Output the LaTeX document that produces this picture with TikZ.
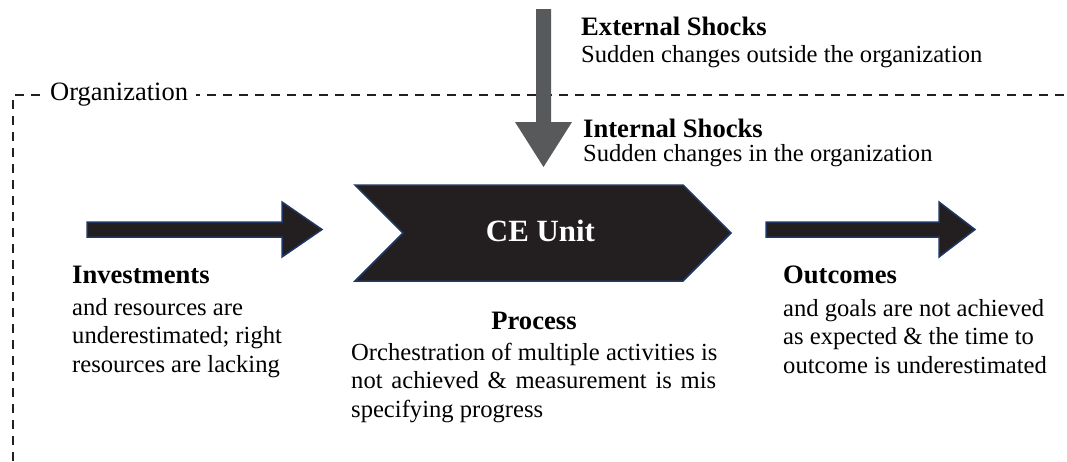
\documentclass[tikz,border=0pt]{standalone}
\usepackage{fontspec}
\setmainfont{Liberation Serif}
\definecolor{blockfill}{HTML}{231F20}
\definecolor{blockline}{HTML}{1F3864}
\definecolor{shockgray}{HTML}{58595B}
\newcommand{\bodytext}{\fontsize{24.6}{28.5}\selectfont}
\newcommand{\headtext}{\fontsize{26.6}{30}\selectfont\bfseries}

\begin{document}
\begin{tikzpicture}[x=1pt, y=-1pt,
    block/.style={fill=blockfill, draw=blockline, line width=1.5pt, line join=miter},
    orgline/.style={draw=blockfill, line width=2pt, dash pattern=on 9pt off 7pt},
    label/.style={inner sep=0pt, anchor=base west, font=\bodytext, align=left}]
    \useasboundingbox (0,0) rectangle (1067,461);
    % The dashed organization border.
        \draw[orgline] (13,461) -- (13,95) -- (1067,95);
        \node[fill=white, inner xsep=8pt, inner ysep=4pt, anchor=base west, font=\fontsize{26.5}{30}\selectfont] (org) at (42,100) {Organization};
    % The shock arrow from the top.
        \fill[shockgray] (536,9) -- (551,9) -- (551,122) -- (572,122) -- (543.5,167) -- (515,122) -- (536,122) -- cycle;
    % Input arrow, CE unit and output arrow.
        \draw[block] (87,222) -- (282,222) -- (282,202) -- (322,229.5) -- (282,257) -- (282,237) -- (87,237) -- cycle;
        \draw[block] (355,185) -- (683,185) -- (731,233) -- (683,281) -- (355,281) -- (403,233) -- cycle;
        \draw[block] (766,222) -- (939,222) -- (939,202) -- (975,229.5) -- (939,257) -- (939,237) -- (766,237) -- cycle;
        \node[inner sep=0pt, anchor=base, text=white, font=\fontsize{30.9}{34}\selectfont\bfseries] (ce) at (540.5,241) {CE Unit};
    % Below nodes are the labels (multi-line ones sit on their last line).
        \node[label, font=\headtext] (exthead) at (581,35) {External Shocks};
        \node[label] (exttext) at (581,62) {Sudden changes outside the organization};
        \node[label, font=\headtext] (inthead) at (583,137) {Internal Shocks};
        \node[label] (inttext) at (583,161) {Sudden changes in the organization};
        \node[label, font=\headtext] (invhead) at (72,283) {Investments};
        \node[label] (invtext) at (72,372) {and resources are\\underestimated; right\\resources are lacking};
        \node[label, font=\headtext] (outhead) at (783,283) {Outcomes};
        \node[label] (outtext) at (783,373) {and goals are not achieved\\as expected \& the time to\\outcome is underestimated};
        \node[inner sep=0pt, anchor=base, font=\headtext] (prohead) at (534,329) {Process};
        \node[label] (protext) at (351,417) {Orchestration of multiple activities is\\\makebox[365pt][s]{not achieved \& measurement is mis}\\specifying progress};
\end{tikzpicture}
\end{document}
